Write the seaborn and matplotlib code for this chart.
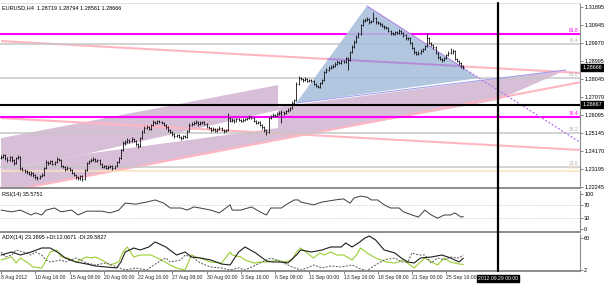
import matplotlib
matplotlib.use("Agg")
import matplotlib.pyplot as plt
import matplotlib.transforms as mtrans
from matplotlib.patches import Polygon
from matplotlib.lines import Line2D
import numpy as np
import pandas as pd
import seaborn as sns

sns.set_theme(style="white")
plt.rcParams['font.family'] = ['Liberation Sans', 'DejaVu Sans']

# ---------------- data (EURUSD H4) ----------------
first_open = 1.2380
closes = [1.2386, 1.2396, 1.2380, 1.2369, 1.2386, 1.2369, 1.2353, 1.2380, 1.2386, 1.2327,
          1.2316, 1.2311, 1.2305, 1.2294, 1.2300, 1.2289, 1.2278, 1.2273, 1.2284, 1.2289,
          1.2327, 1.2359, 1.2353, 1.2364, 1.2348, 1.2359, 1.2375, 1.2369, 1.2337, 1.2332,
          1.2321, 1.2327, 1.2316, 1.2300, 1.2289, 1.2278, 1.2273, 1.2284, 1.2268, 1.2316,
          1.2353, 1.2364, 1.2369, 1.2375, 1.2364, 1.2369, 1.2348, 1.2332, 1.2337, 1.2327,
          1.2332, 1.2337, 1.2327, 1.2337, 1.2359, 1.2380, 1.2423, 1.2461, 1.2466, 1.2477,
          1.2471, 1.2482, 1.2471, 1.2455, 1.2444, 1.2487, 1.2520, 1.2541, 1.2546, 1.2536,
          1.2557, 1.2573, 1.2568, 1.2578, 1.2573, 1.2568, 1.2557, 1.2546, 1.2530, 1.2520,
          1.2509, 1.2498, 1.2503, 1.2493, 1.2487, 1.2498, 1.2493, 1.2525, 1.2557, 1.2562,
          1.2568, 1.2573, 1.2562, 1.2568, 1.2573, 1.2562, 1.2546, 1.2541, 1.2530, 1.2536,
          1.2525, 1.2536, 1.2541, 1.2530, 1.2525, 1.2530, 1.2594, 1.2578, 1.2584, 1.2578,
          1.2589, 1.2584, 1.2578, 1.2584, 1.2589, 1.2594, 1.2600, 1.2594, 1.2578, 1.2568,
          1.2573, 1.2557, 1.2546, 1.2530, 1.2520, 1.2594, 1.2605, 1.2611, 1.2605, 1.2616,
          1.2621, 1.2627, 1.2621, 1.2632, 1.2637, 1.2648, 1.2675, 1.2691, 1.2777, 1.2809,
          1.2804, 1.2798, 1.2804, 1.2793, 1.2798, 1.2793, 1.2777, 1.2766, 1.2761, 1.2782,
          1.2798, 1.2841, 1.2852, 1.2863, 1.2868, 1.2873, 1.2884, 1.2895, 1.2889, 1.2900,
          1.2895, 1.2916, 1.2905, 1.2948, 1.2975, 1.3002, 1.3029, 1.3045, 1.3093, 1.3114,
          1.3120, 1.3125, 1.3109, 1.3114, 1.3131, 1.3109, 1.3104, 1.3098, 1.3088, 1.3082,
          1.3077, 1.3061, 1.3050, 1.3045, 1.3055, 1.3050, 1.3061, 1.3050, 1.3039, 1.3023,
          1.3023, 1.2997, 1.2970, 1.2948, 1.2938, 1.2943, 1.2954, 1.2964, 1.2980, 1.3023,
          1.2997, 1.2986, 1.2975, 1.2943, 1.2921, 1.2911, 1.2905, 1.2916, 1.2932, 1.2943,
          1.2948, 1.2954, 1.2911, 1.2900, 1.2889, 1.28719, 1.28666]
highs = [1.2395, 1.2404, 1.2401, 1.2388, 1.2393, 1.2392, 1.2375, 1.2388, 1.2398, 1.2390,
         1.2334, 1.2323, 1.2317, 1.2310, 1.2308, 1.2306, 1.2295, 1.2286, 1.2291, 1.2298,
         1.2334, 1.2368, 1.2366, 1.2372, 1.2370, 1.2366, 1.2384, 1.2381, 1.2374, 1.2345,
         1.2338, 1.2335, 1.2332, 1.2321, 1.2306, 1.2295, 1.2285, 1.2290, 1.2291, 1.2322,
         1.2360, 1.2372, 1.2378, 1.2384, 1.2381, 1.2377, 1.2374, 1.2353, 1.2345, 1.2342,
         1.2340, 1.2344, 1.2342, 1.2345, 1.2366, 1.2388, 1.2431, 1.2470, 1.2476, 1.2485,
         1.2484, 1.2490, 1.2488, 1.2477, 1.2461, 1.2494, 1.2528, 1.2549, 1.2556, 1.2553,
         1.2564, 1.2583, 1.2580, 1.2586, 1.2584, 1.2579, 1.2574, 1.2563, 1.2552, 1.2537,
         1.2526, 1.2516, 1.2511, 1.2509, 1.2500, 1.2505, 1.2506, 1.2532, 1.2566, 1.2571,
         1.2576, 1.2582, 1.2579, 1.2576, 1.2581, 1.2578, 1.2568, 1.2553, 1.2547, 1.2544,
         1.2541, 1.2543, 1.2549, 1.2547, 1.2537, 1.2538, 1.2621, 1.2600, 1.2592, 1.2590,
         1.2597, 1.2595, 1.2590, 1.2592, 1.2597, 1.2602, 1.2609, 1.2606, 1.2599, 1.2584,
         1.2580, 1.2578, 1.2563, 1.2552, 1.2536, 1.2601, 1.2613, 1.2619, 1.2617, 1.2624,
         1.2630, 1.2636, 1.2633, 1.2640, 1.2646, 1.2656, 1.2683, 1.2699, 1.2786, 1.2818,
         1.2816, 1.2811, 1.2812, 1.2810, 1.2806, 1.2804, 1.2799, 1.2783, 1.2773, 1.2790,
         1.2806, 1.2849, 1.2860, 1.2871, 1.2877, 1.2882, 1.2892, 1.2903, 1.2901, 1.2908,
         1.2906, 1.2924, 1.2922, 1.2956, 1.2984, 1.3010, 1.3038, 1.3054, 1.3101, 1.3123,
         1.3129, 1.3134, 1.3132, 1.3122, 1.3163, 1.3137, 1.3116, 1.3111, 1.3105, 1.3095,
         1.3090, 1.3084, 1.3068, 1.3058, 1.3063, 1.3062, 1.3069, 1.3068, 1.3057, 1.3045,
         1.3031, 1.3029, 1.3004, 1.2976, 1.2955, 1.2951, 1.2962, 1.2972, 1.2988, 1.3050,
         1.3030, 1.3004, 1.2993, 1.2981, 1.2949, 1.2928, 1.2918, 1.2924, 1.2940, 1.2951,
         1.2970, 1.2962, 1.2960, 1.2918, 1.2907, 1.2895, 1.28794]
lows = [1.2374, 1.2380, 1.2372, 1.2360, 1.2362, 1.2361, 1.2345, 1.2348, 1.2373, 1.2318,
        1.2308, 1.2302, 1.2296, 1.2287, 1.2286, 1.2280, 1.2268, 1.2262, 1.2266, 1.2277,
        1.2283, 1.2321, 1.2345, 1.2347, 1.2340, 1.2342, 1.2352, 1.2362, 1.2330, 1.2324,
        1.2313, 1.2315, 1.2308, 1.2292, 1.2281, 1.2269, 1.2263, 1.2262, 1.2255, 1.2262,
        1.2310, 1.2346, 1.2357, 1.2362, 1.2357, 1.2356, 1.2341, 1.2325, 1.2326, 1.2319,
        1.2320, 1.2325, 1.2318, 1.2320, 1.2331, 1.2352, 1.2374, 1.2417, 1.2452, 1.2459,
        1.2463, 1.2465, 1.2464, 1.2447, 1.2433, 1.2438, 1.2481, 1.2513, 1.2534, 1.2528,
        1.2530, 1.2550, 1.2561, 1.2562, 1.2566, 1.2560, 1.2550, 1.2538, 1.2522, 1.2512,
        1.2500, 1.2489, 1.2491, 1.2485, 1.2477, 1.2481, 1.2486, 1.2488, 1.2519, 1.2550,
        1.2555, 1.2561, 1.2554, 1.2556, 1.2561, 1.2555, 1.2539, 1.2533, 1.2522, 1.2524,
        1.2517, 1.2519, 1.2530, 1.2523, 1.2516, 1.2518, 1.2526, 1.2571, 1.2572, 1.2570,
        1.2573, 1.2577, 1.2571, 1.2572, 1.2578, 1.2582, 1.2588, 1.2587, 1.2571, 1.2560,
        1.2561, 1.2550, 1.2538, 1.2522, 1.2505, 1.2515, 1.2588, 1.2598, 1.2598, 1.2599,
        1.2609, 1.2568, 1.2613, 1.2615, 1.2625, 1.2630, 1.2642, 1.2668, 1.2685, 1.2770,
        1.2797, 1.2790, 1.2791, 1.2786, 1.2786, 1.2785, 1.2770, 1.2758, 1.2753, 1.2755,
        1.2775, 1.2792, 1.2834, 1.2845, 1.2856, 1.2861, 1.2866, 1.2877, 1.2882, 1.2882,
        1.2887, 1.2888, 1.2852, 1.2899, 1.2941, 1.2968, 1.2995, 1.3022, 1.3039, 1.3086,
        1.3107, 1.3112, 1.3101, 1.3102, 1.3107, 1.3101, 1.3096, 1.3090, 1.3080, 1.3074,
        1.3069, 1.3053, 1.3042, 1.3037, 1.3038, 1.3043, 1.3044, 1.3043, 1.3031, 1.3015,
        1.3014, 1.2989, 1.2962, 1.2940, 1.2930, 1.2931, 1.2937, 1.2947, 1.2957, 1.2974,
        1.2989, 1.2978, 1.2967, 1.2935, 1.2913, 1.2903, 1.2897, 1.2898, 1.2910, 1.2925,
        1.2936, 1.2940, 1.2903, 1.2892, 1.2881, 1.2865, 1.28561]

price_ticks = [1.31895, 1.30945, 1.29970, 1.28995, 1.28045, 1.27070,
               1.26095, 1.25145, 1.24170, 1.23195, 1.22245]
date_ticks = [0, 16, 32, 48, 64, 80, 96, 112, 128, 144, 160, 176, 192, 208]
date_labels = ["8 Aug 2012", "10 Aug 16:00", "15 Aug 08:00", "20 Aug 00:00",
               "22 Aug 16:00", "27 Aug 08:00", "30 Aug 00:00", "3 Sep 16:00",
               "6 Sep 08:00", "11 Sep 00:00", "13 Sep 16:00", "18 Sep 08:00",
               "21 Sep 00:00", "25 Sep 16:00"]

rsi_bars = [0, 5, 9, 14, 16, 19, 21, 25, 28, 33, 36, 40, 47, 51, 55, 58, 63, 68, 72, 76,
            79, 84, 87, 90, 93, 98, 102, 107, 108, 112, 117, 121, 124, 126, 131, 133, 137, 139, 140, 146,
            150, 156, 160, 163, 165, 168, 171, 173, 176, 179, 182, 186, 188, 192, 195, 198, 201, 204, 207, 210,
            212, 215, 216]
rsi_vals = [54, 49, 54, 40, 46, 40, 54, 60, 49, 54, 40, 51, 51, 46, 54, 74, 71, 77, 83, 74,
            60, 60, 54, 63, 60, 54, 46, 69, 54, 54, 63, 49, 40, 60, 60, 69, 83, 83, 77, 69,
            77, 83, 86, 74, 89, 94, 91, 83, 83, 69, 60, 60, 49, 40, 34, 54, 40, 31, 40, 40,
            46, 34, 35.5751]

adx_bars = [0, 5, 9, 14, 19, 23, 27, 30, 35, 40, 44, 49, 54, 56, 58, 62, 65, 69, 72, 77,
            82, 86, 89, 93, 98, 103, 107, 111, 114, 119, 124, 127, 131, 134, 138, 140, 145, 150, 154, 159,
            161, 164, 167, 170, 172, 175, 179, 184, 187, 190, 193, 196, 201, 206, 210, 214, 216]
adx_vals = [29.2, 34.6, 29.2, 34.6, 41.9, 41.9, 32.8, 23.8, 16.5, 12.9, 9.3, 7.5, 5.7, 16.5, 34.6, 41.9, 38.3, 43.7, 52.8, 43.7,
            29.2, 34.6, 25.6, 23.8, 20.1, 12.9, 11.1, 34.6, 43.7, 32.8, 18.3, 16.5, 16.5, 14.7, 29.2, 38.3, 34.6, 38.3, 43.7, 43.7,
            51.0, 43.7, 51.0, 60.0, 63.6, 56.4, 38.3, 32.8, 23.8, 16.5, 14.7, 23.8, 25.6, 29.2, 23.8, 16.5, 23.3895]

pdi_bars = [0, 5, 7, 9, 12, 15, 19, 21, 23, 26, 28, 31, 35, 40, 42, 44, 47, 51, 55, 57,
            59, 62, 65, 70, 75, 79, 82, 86, 89, 91, 93, 98, 103, 107, 108, 112, 114, 118, 122, 125,
            129, 132, 136, 138, 140, 143, 146, 149, 151, 154, 157, 160, 164, 166, 168, 171, 175, 180, 184, 188,
            193, 198, 201, 204, 207, 210, 214, 216]
pdi_vals = [20.1, 25.6, 14.7, 23.8, 16.5, 7.5, 5.7, 20.1, 34.6, 38.3, 25.6, 23.8, 16.5, 25.6, 23.8, 25.6, 20.1, 11.1, 16.5, 34.6,
            43.7, 25.6, 29.2, 29.2, 20.1, 11.1, 5.7, 2.0, 29.2, 25.6, 23.8, 16.5, 14.7, 34.6, 29.2, 25.6, 20.1, 14.7, 16.5, 16.5,
            20.1, 16.5, 20.1, 34.6, 41.9, 32.8, 23.8, 32.8, 29.2, 34.6, 29.2, 29.2, 20.1, 29.2, 41.9, 32.8, 23.8, 16.5, 14.7, 20.1,
            5.7, 23.8, 16.5, 11.1, 23.8, 16.5, 12.9, 12.0671]

mdi_bars = [0, 2, 5, 7, 12, 14, 16, 19, 21, 23, 28, 30, 35, 40, 44, 49, 54, 58, 63, 68,
            70, 75, 77, 79, 84, 86, 90, 93, 98, 103, 107, 111, 114, 119, 122, 126, 131, 136, 140, 143,
            146, 150, 154, 159, 164, 168, 171, 175, 179, 184, 187, 190, 192, 195, 198, 201, 204, 207, 210, 214,
            216]
mdi_vals = [34.6, 25.6, 29.2, 38.3, 32.8, 29.2, 34.6, 29.2, 20.1, 16.5, 20.1, 16.5, 23.8, 14.7, 11.1, 14.7, 7.5, 2.0, 5.7, 2.0,
            7.5, 20.1, 23.8, 16.5, 20.1, 29.2, 23.8, 14.7, 7.5, 5.7, 2.0, 5.7, 2.0, 11.1, 16.5, 23.8, 16.5, 7.5, 2.0, 5.7,
            11.1, 5.7, 9.3, 7.5, 11.1, 3.8, 1.0, 11.1, 20.1, 23.8, 16.5, 16.5, 32.8, 29.2, 29.2, 14.7, 23.8, 20.1, 25.6, 23.8,
            29.5827]

# chart objects anchored at (bar, price)
fib_prices = [1.3045, 1.2991, 1.2809, 1.2600, 1.2514, 1.2332, 1.2311]
fib_labels = ["61.8", "76.4", "61.8", "76.4", "38.2", "23.6", "100.0"]
fib_colors = ["#ff00ff", "#c6c6c6", "#c6c6c6", "#ff00ff", "#c6c6c6", "#c6c6c6", "#fbe3bd"]
upper_band = [(0, 1.2487), (129.4, 1.2771), (129.4, 1.2637), (39.7, 1.2402), (0, 1.2316)]
lower_band = [(0, 1.2316), (39.7, 1.2402), (129.4, 1.2541), (129.4, 1.2477), (10.7, 1.2219), (0, 1.2219)]
blue_tri = [(137.9, 1.2675), (171.0, 1.3195), (223.4, 1.2809)]
lav_tri = [(129.4, 1.2654), (264.0, 1.2852), (232.2, 1.2691), (129.4, 1.2477)]
pink_lines = [((0, 1.3007), (271, 1.2836)), ((10.7, 1.2219), (271, 1.2787)), ((0, 1.2594), (271, 1.2423))]
violet_seg = ((152.8, 1.2911), (214.9, 1.2873))
blue_line = ((137.9, 1.2675), (264.0, 1.2852))
dotted_line = ((215.9, 1.2863), (271, 1.2461))
hline_black = 1.26667
vline_bar = 232.2
last_price = 1.28666

# ---------------- figure ----------------
W, H = 604, 284
fig = plt.figure(figsize=(W / 100, H / 100), dpi=100)
fig.patch.set_facecolor("white")


def rect(x0, y0, x1, y1):
    return [x0 / W, 1 - y1 / H, (x1 - x0) / W, (y1 - y0) / H]


ax = fig.add_axes(rect(0, 3, 580, 188))
ax_rsi = fig.add_axes(rect(0, 191, 580, 232))
ax_adx = fig.add_axes(rect(0, 234, 580, 271))

XL = (-0.5, 270.5)
fs = 4.0
for a in (ax, ax_rsi, ax_adx):
    a.set_facecolor("white")
    a.set_xlim(*XL)
    for s in ("left", "top"):
        a.spines[s].set_visible(False)
    a.spines["right"].set_color("#8c8c8c")
    a.spines["right"].set_linewidth(0.8)
    a.spines["bottom"].set_color("#8c8c8c")
    a.spines["bottom"].set_linewidth(1.4)
    a.yaxis.tick_right()
    a.tick_params(axis="y", direction="out", length=2, width=0.5, color="#555555",
                  labelsize=fs, pad=1, labelcolor="black")
    a.tick_params(axis="x", bottom=False, labelbottom=False)
ax.spines["top"].set_visible(True)
ax.spines["top"].set_color("#dcdcdc")
ax.spines["top"].set_linewidth(0.6)

# main panel
ax.set_ylim(1.22193, 1.32109)
ax.set_yticks(price_ticks)
ax.set_yticklabels([f"{p:.5f}" for p in price_ticks])

ax.add_patch(Polygon(upper_band, closed=True, fc="#d8bfd8", ec="none", zorder=1))
ax.add_patch(Polygon(lower_band, closed=True, fc="#d8bfd8", ec="none", zorder=1))
ax.add_patch(Polygon(lav_tri, closed=True, fc="#d8bfd8", ec="none", zorder=1))
for (p0, p1) in pink_lines:
    ax.plot([p0[0], p1[0]], [p0[1], p1[1]], color="#ffb6c1", lw=1.5, zorder=2,
            solid_capstyle="butt")
ax.add_patch(Polygon(blue_tri, closed=True, fc="#a9bfdc", ec="none", alpha=0.88, zorder=3))
ax.plot([violet_seg[0][0], violet_seg[1][0]], [violet_seg[0][1], violet_seg[1][1]],
        color="#b48ad8", lw=1.3, zorder=3.5)
ax.plot([blue_line[0][0], blue_line[1][0]], [blue_line[0][1], blue_line[1][1]],
        color="#9a9af0", lw=0.7, zorder=3.5)
ax.plot([blue_tri[1][0], dotted_line[0][0]], [blue_tri[1][1], dotted_line[0][1]],
        color="#b07ae0", lw=0.7, zorder=3.5)
ax.plot([dotted_line[0][0], dotted_line[1][0]], [dotted_line[0][1], dotted_line[1][1]],
        color="#b46ee6", lw=0.9, ls=(0, (1.5, 1.5)), zorder=3.5)

ytr = mtrans.blended_transform_factory(ax.transAxes, ax.transData)
for p, lab, c in zip(fib_prices, fib_labels, fib_colors):
    ax.axhline(p, color=c, lw=1.5 if c == "#ff00ff" else 1.1, zorder=2.5)
    ax.text(0.997, p + 0.0003, lab, transform=ytr, ha="right", va="bottom",
            fontsize=3.6, color=c if c != "#c6c6c6" else "#b0b0b0", zorder=6)
ax.axhline(hline_black, color="black", lw=1.5, zorder=4)

opens = [first_open] + closes[:-1]
bars = np.arange(len(closes))
ax.vlines(bars, lows, highs, color="black", lw=0.55, zorder=5)
ax.hlines(opens, bars - 0.45, bars, color="black", lw=0.45, zorder=5)
ax.hlines(closes, bars, bars + 0.45, color="black", lw=0.45, zorder=5)

for val in (last_price, hline_black):
    ax.text(1.004, val, f"{val:.5f}", transform=ytr, ha="left", va="center",
            fontsize=fs, color="white", zorder=11, clip_on=False,
            bbox=dict(boxstyle="square,pad=0.18", fc="black", ec="black"))

ax.text(0.004, 0.985, "EURUSD,H4  1.28719 1.28794 1.28561 1.28666", transform=ax.transAxes,
        ha="left", va="top", fontsize=fs, color="black", zorder=12)

# RSI panel
rsi_df = pd.DataFrame({"bar": rsi_bars, "rsi": rsi_vals})
sns.lineplot(data=rsi_df, x="bar", y="rsi", ax=ax_rsi, color="#3c3c3c", lw=0.7)
ax_rsi.set_ylim(-8.6, 108.6)
ax_rsi.set_yticks([100, 70, 30, 0])
ax_rsi.set_yticklabels(["100", "70", "30", "0"])
for lvl in (70, 30):
    ax_rsi.axhline(lvl, color="#bdbdbd", lw=0.6, ls=(0, (1, 1.5)), zorder=0)
ax_rsi.set_xlabel("")
ax_rsi.set_ylabel("")
ax_rsi.text(0.004, 0.97, "RSI(14) 35.5751", transform=ax_rsi.transAxes, ha="left",
            va="top", fontsize=fs, color="black")

# ADX panel
adx_df = pd.DataFrame({"bar": adx_bars, "v": adx_vals})
pdi_df = pd.DataFrame({"bar": pdi_bars, "v": pdi_vals})
mdi_df = pd.DataFrame({"bar": mdi_bars, "v": mdi_vals})
sns.lineplot(data=pdi_df, x="bar", y="v", ax=ax_adx, color="#9acd32", lw=0.8)
sns.lineplot(data=mdi_df, x="bar", y="v", ax=ax_adx, color="#555555", lw=0.7,
             linestyle=(0, (2, 1.5)))
sns.lineplot(data=adx_df, x="bar", y="v", ax=ax_adx, color="#1e1e1e", lw=0.8)
ax_adx.set_ylim(0.19, 67.25)
ax_adx.set_yticks([60, 2])
ax_adx.set_yticklabels(["60", "2"])
ax_adx.set_xlabel("")
ax_adx.set_ylabel("")
ax_adx.text(0.004, 0.97, "ADX(14) 23.3895 +DI:12.0671 -DI:29.5827", transform=ax_adx.transAxes,
            ha="left", va="top", fontsize=fs, color="black")
ax_adx.set_xticks(date_ticks)
ax_adx.set_xticklabels(date_labels, ha="left")
ax_adx.tick_params(axis="x", bottom=True, labelbottom=True, direction="out", length=2,
                   width=0.5, color="#555555", labelsize=3.7, pad=1)
xtr = mtrans.blended_transform_factory(ax_adx.transData, ax_adx.transAxes)
ax_adx.text(vline_bar, -0.14, "2012.09.29 00:00", transform=xtr, ha="center", va="top",
            fontsize=3.7, color="white", clip_on=False, zorder=12,
            bbox=dict(boxstyle="square,pad=0.15", fc="black", ec="black"))
for a in (ax, ax_rsi):
    a.set_xlabel("")
    a.set_xticks([])

# vertical marker line spanning all panels
vtr = mtrans.blended_transform_factory(ax.transData, fig.transFigure)
fig.add_artist(Line2D([vline_bar, vline_bar], [1 - 3 / H, 1 - 271 / H], transform=vtr,
                      color="black", lw=1.6, zorder=20))

fig.savefig("out.png", dpi=100)
